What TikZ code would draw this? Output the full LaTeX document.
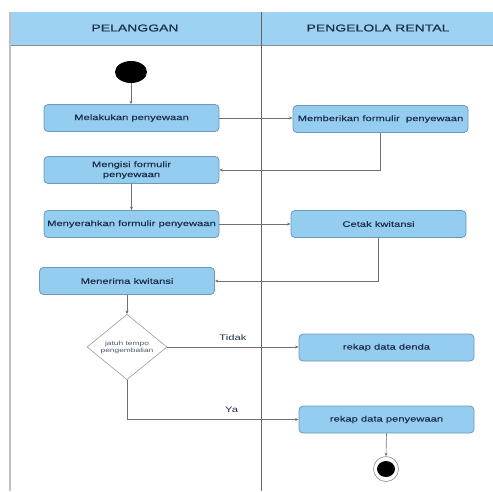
\documentclass[tikz,border=0pt]{standalone}
\usepackage{fontspec}
\setmainfont{Liberation Sans}
\newfontfamily\wfont[FakeStretch=1.4,FakeBold=0.35]{Liberation Sans}
\newfontfamily\hfont[FakeStretch=1.4,FakeBold=0.6]{Liberation Sans}
\newfontfamily\lfont[FakeStretch=1.4]{Liberation Sans}
\usetikzlibrary{shapes.geometric,arrows.meta}
\definecolor{boxfill}{HTML}{95CDF0}
\definecolor{boxline}{HTML}{6C98BC}
\definecolor{headfill}{HTML}{9DD2F3}
\definecolor{txt}{HTML}{1C2E48}
\definecolor{conn}{HTML}{707070}
\tikzset{
  actbox/.style={draw=boxline, line width=0.8pt, fill=boxfill, rounded corners=4pt,
    minimum width=175pt, minimum height=27pt, inner sep=1pt, align=center,
    font=\wfont\fontsize{8}{10}\selectfont, text=txt},
  decbox/.style={diamond, draw=conn!70, line width=0.6pt, fill=white, minimum width=80pt,
    minimum height=58pt, inner sep=0pt, align=center,
    font=\lfont\fontsize{6}{7}\selectfont, text=txt!80},
  flow/.style={draw=conn, line width=0.6pt, -{Stealth[length=3.5pt,width=3pt]}},
  headtext/.style={font=\hfont\fontsize{10}{12}\selectfont, text=txt},
  lbl/.style={font=\lfont\fontsize{8}{10}\selectfont, text=txt}
}
\begin{document}
\begin{tikzpicture}[x=1pt,y=-1pt]
\useasboundingbox (0,0) rectangle (493,491);
% swimlane frame
\fill[headfill] (10,12) rectangle (493,45);
\draw[conn!80, line width=0.6pt] (10,45) -- (493,45);
\draw[gray!50, line width=2.2pt] (10,12) -- (10,491);
\draw[conn!90!black, line width=0.7pt] (261,12) -- (261,491);
\node[headtext] (h1) at (135,28) {PELANGGAN};
\node[headtext] (h2) at (378,28) {PENGELOLA RENTAL};
% nodes
\node[ellipse, fill=black, minimum width=32pt, minimum height=22pt, inner sep=0pt] (start) at (131,72) {};
\node[actbox] (b1) at (131.5,118) {Melakukan penyewaan};
\node[actbox] (b2) at (380.5,119) {Memberikan formulir\ \ penyewaan};
\node[actbox] (b3) at (131.5,170) {Mengisi formulir\\penyewaan};
\node[actbox] (b4) at (131.5,224) {Menyerahkan formulir penyewaan};
\node[actbox] (b5) at (378.5,224) {Cetak kwitansi};
\node[actbox] (b6) at (127,281) {Menerima kwitansi};
\node[decbox] (d) at (127,347) {jatuh tempo\\pengembalian};
\node[actbox] (b7) at (386.5,347.5) {rekap data denda};
\node[actbox] (b8) at (386.5,419.5) {rekap data penyewaan};
\node[circle, draw=conn!80, line width=0.6pt, fill=white, minimum size=25pt, inner sep=0pt] (endo) at (386,469) {};
\node[ellipse, fill=black, minimum width=18pt, minimum height=16pt, inner sep=0pt] (endi) at (386,469) {};
% connectors
\draw[flow] (start) -- (start |- b1.north);
\draw[flow] (b1.east) -- (b1.east -| b2.west);
\draw[flow] (b2.south) |- (b3.east);
\draw[flow] (b3.south) -- (b4.north);
\draw[flow] (b4.east) -- (b5.west);
\draw[flow] (b5.south) |- (b6.east);
\draw[flow] (b6.south) -- (d.north);
\draw[flow] (d.east) -- (d.east -| b7.west) node[lbl, pos=0.5, above=3pt] (t1) {Tidak};
\draw[flow] (d.south) |- (b8.west) node[lbl, pos=0.805, above=3pt] (t2) {Ya};
\draw[flow] (b8.south) -- (endo.north);
\end{tikzpicture}
\end{document}
